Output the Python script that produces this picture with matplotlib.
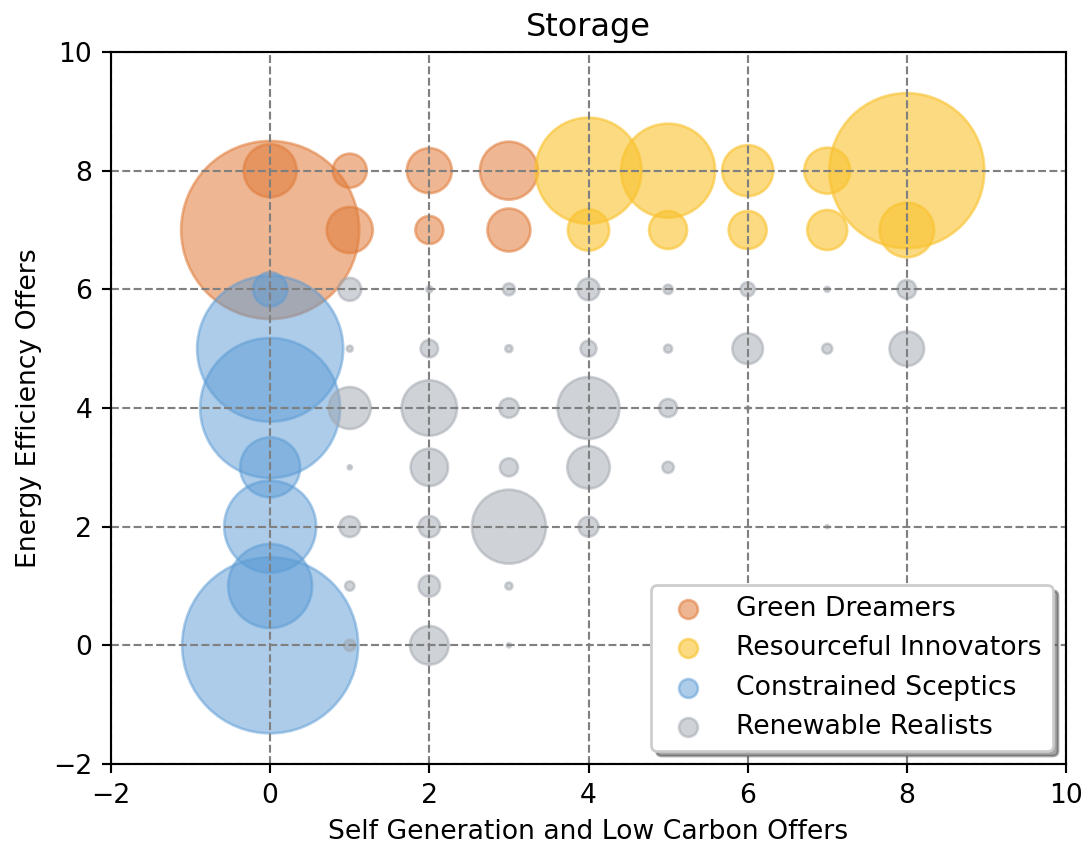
import matplotlib
matplotlib.use("Agg")
import matplotlib.pyplot as plt

DPI = 192
W, H = 1084, 845

# group name, face colour, alpha
GROUPS = ["Green Dreamers", "Resourceful Innovators", "Constrained Sceptics", "Renewable Realists"]
COLORS = ["#E07B39", "#F9C22E", "#5B9BD5", "#A0A6AE"]
ALPHAS = [0.55, 0.6, 0.5, 0.5]

# Self generation / low carbon offers (x), energy efficiency offers (y), bubble size
green_x = [0, 0, 1, 1, 2, 2, 3, 3]
green_y = [7, 8, 8, 7, 8, 7, 8, 7]
green_s = [4456, 395, 163, 298, 285, 110, 473, 260]

resource_x = [4, 4, 5, 5, 6, 6, 7, 7, 8, 8]
resource_y = [8, 7, 8, 7, 8, 7, 8, 7, 8, 7]
resource_s = [1580, 240, 1243, 203, 366, 203, 298, 225, 3380, 420]

sceptic_x = [0, 0, 0, 0, 0, 0, 0]
sceptic_y = [0, 1, 2, 3, 4, 5, 6]
sceptic_s = [4356, 992, 1190, 506, 2756, 3000, 163]

realist_x = [1, 2, 3, 4, 5, 6, 7, 8,
             1, 2, 3, 4, 5, 6, 7, 8,
             1, 2, 3, 4, 5, 6,
             1, 2, 3, 4, 5,
             1, 2, 3, 4, 7,
             1, 2, 3,
             1, 2, 3]
realist_y = [6, 6, 6, 6, 6, 6, 6, 6,
             5, 5, 5, 5, 5, 5, 5, 5,
             4, 4, 4, 4, 4, 4,
             3, 3, 3, 3, 3,
             2, 2, 2, 2, 2,
             1, 1, 1,
             0, 0, 0]
realist_s = [74, 5, 20, 68, 12, 28, 3.5, 49,
             5, 43, 7, 36, 9, 132, 14, 168,
             248, 432, 53, 540, 46, 1.3,
             2.3, 197, 46, 255, 18,
             60, 64, 770, 56, 1.3,
             12, 64, 7,
             17, 210, 2.3]

SERIES = [
    (green_x, green_y, green_s),
    (resource_x, resource_y, resource_s),
    (sceptic_x, sceptic_y, sceptic_s),
    (realist_x, realist_y, realist_s),
]

fig = plt.figure(figsize=(W / DPI, H / DPI), dpi=DPI)
ax = fig.add_axes([111 / W, 81 / H, 955 / W, 712 / H])

for name, color, alpha, (xs, ys, ss) in zip(GROUPS, COLORS, ALPHAS, SERIES):
    ax.scatter(xs, ys, s=ss, color=color, alpha=alpha, label=name)

ax.set_xlim(-2, 10)
ax.set_ylim(-2, 10)
ax.set_xticks(range(-2, 11, 2))
ax.set_yticks(range(-2, 11, 2))
ax.grid(True, linestyle="--", color="gray")

ax.set_title("Storage")
ax.set_xlabel("Self Generation and Low Carbon Offers")
ax.set_ylabel("Energy Efficiency Offers")

leg = ax.legend(loc="lower right", shadow=True)
for h in leg.legend_handles:
    h.set_sizes([50])

fig.savefig("out.png", dpi=DPI)
